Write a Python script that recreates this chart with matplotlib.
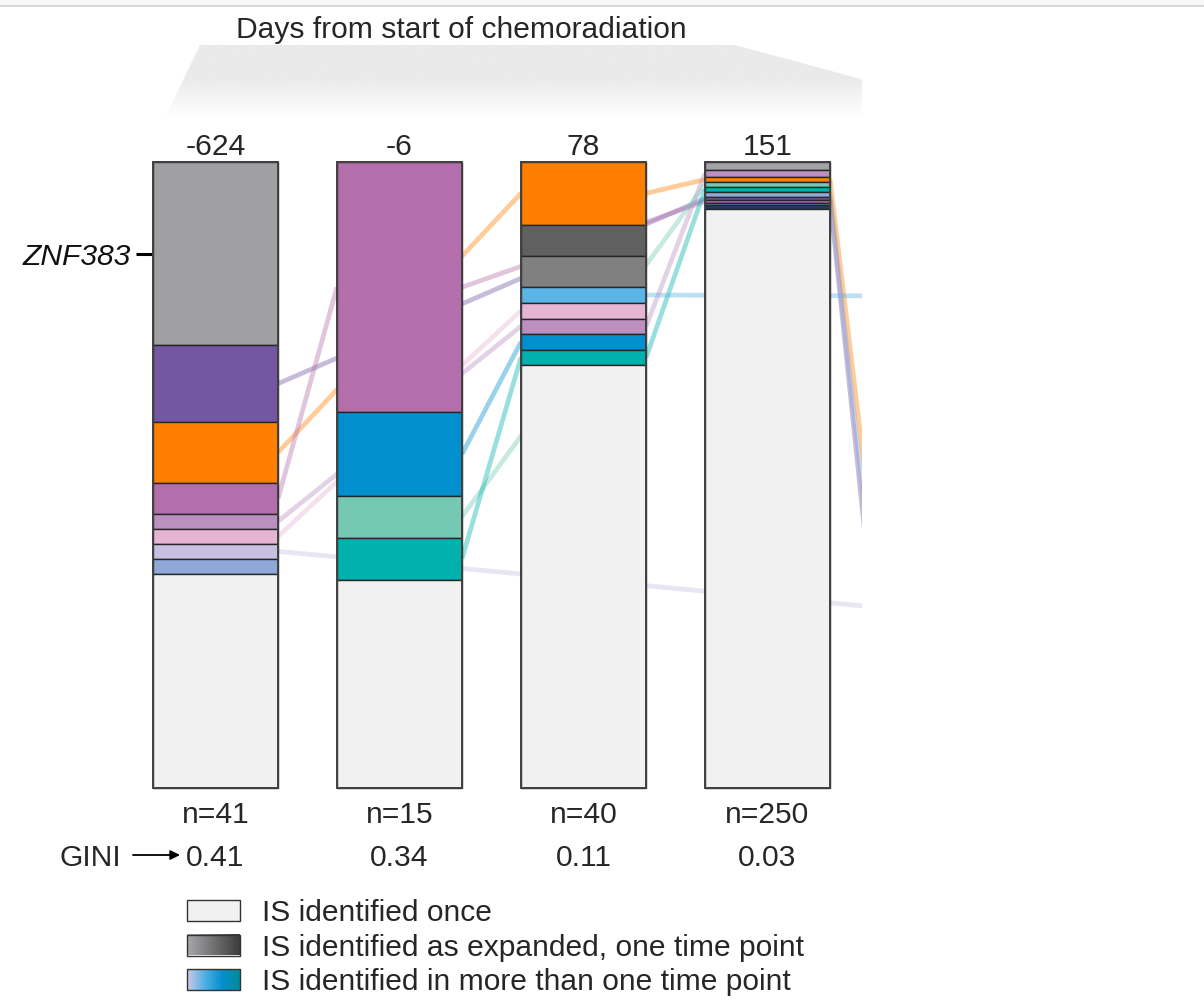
import numpy as np
import matplotlib
matplotlib.use('Agg')
import matplotlib.pyplot as plt
from matplotlib.patches import Polygon, Rectangle
from matplotlib.colors import to_rgb

plt.rcParams['font.family'] = ['Liberation Sans', 'DejaVu Sans']

# sampling days relative to the start of chemoradiation
days = ['-624', '-6', '78', '151']
n_sites = [41, 15, 40, 250]
gini = [0.41, 0.34, 0.11, 0.03]

# relative abundance of each integration site (IS), listed top to bottom
is_d624 = ['ZNF383', 'A', 'B', 'C', 'D', 'E', 'F', 'P', 'once']
ab_d624 = [0.293, 0.122, 0.098, 0.049, 0.024, 0.024, 0.024, 0.024, 0.342]

is_d6 = ['C', 'G', 'H', 'I', 'once']
ab_d6 = [0.400, 0.133, 0.067, 0.067, 0.333]

is_d78 = ['B', 'X1', 'X2', 'J', 'E', 'D', 'G', 'I', 'once']
ab_d78 = [0.100, 0.050, 0.050, 0.025, 0.025, 0.025, 0.025, 0.025, 0.675]

is_d151 = ['X3', 'D', 'B', 'H', 'I', 'Q', 'A', 'C', 'R', 'S', 'once']
ab_d151 = [0.012, 0.012, 0.008, 0.008, 0.008, 0.008, 0.005, 0.004, 0.004, 0.006, 0.925]

# following sample sits outside the panel, only its incoming links are visible
is_next = ['X4', 'J', 'X5', 'F', 'B', 'Q', 'A']
ab_next = [0.170, 0.088, 0.420, 0.070, 0.140, 0.040, 0.072]

is_colors = {
    'ZNF383': '#a09fa4', 'A': '#7457a3', 'B': '#ff8000', 'C': '#b36eab',
    'D': '#bb8fc0', 'E': '#e6b5d4', 'F': '#c9bfe0', 'P': '#8ea8d8',
    'G': '#028fce', 'H': '#74c8b4', 'I': '#00b1ae', 'J': '#5ab4e5',
    'Q': '#8ea8d8', 'R': '#5ab4e5', 'S': '#1c3d6e',
    'X1': '#606060', 'X2': '#808080', 'X3': '#a3a3a7', 'X4': '#909090',
    'X5': '#f1f1f1', 'once': '#f1f1f1',
}

legend_labels = ['IS identified once',
                 'IS identified as expanded, one time point',
                 'IS identified in more than one time point']
legend_ramps = [['#f1f1f1', '#f1f1f1'],
                ['#a8a8ac', '#3c3c3c'],
                ['#d2c9e8', '#4fb0e2', '#028fce', '#008c98']]

W, H = 1204, 1001
FS = 21.6
BAR_W = 0.68

# pixel layout of the panel
x0_px, step_px = 215.5, 184.0
top_px, base_px = 162.0, 788.0
unit_px = base_px - top_px


def px_x(p):
    return (p - x0_px) / step_px


def px_y(p):
    return (base_px - p) / unit_px


fig = plt.figure(figsize=(W / 100, H / 100), dpi=100)

ax_l, ax_r, ax_t, ax_b = 100, 862, 40, 800
ax = fig.add_axes([ax_l / W, 1 - ax_b / H, (ax_r - ax_l) / W, (ax_b - ax_t) / H])
ax.patch.set_visible(False)

# shaded header band
band = [(165, 118), (200, 45), (735, 45), (1000, 116.6), (1000, 118)]
poly = Polygon([(px_x(a), px_y(b)) for a, b in band], closed=True,
               facecolor='none', edgecolor='none', transform=ax.transData)
ax.add_patch(poly)
t = np.linspace(0, 1, 200)[:, None]
alpha = np.clip((1 - t) / 0.55, 0, 1)
grad = np.zeros((200, 2, 4))
grad[..., :3] = to_rgb('#eaeaea')
grad[..., 3] = alpha
img = ax.imshow(grad, extent=[px_x(165), px_x(1000), px_y(118), px_y(45)],
                aspect='auto', origin='upper', zorder=0, interpolation='bilinear')
img.set_clip_path(poly)

samples = [(is_d624, ab_d624), (is_d6, ab_d6), (is_d78, ab_d78),
           (is_d151, ab_d151), (is_next, ab_next)]

centres = {}
seen = {}
for i, (ids, ab) in enumerate(samples):
    ab = np.asarray(ab)
    tops = 1 - np.concatenate([[0], np.cumsum(ab)[:-1]])
    bottoms = tops - ab
    ax.bar(i, ab, bottom=bottoms, width=BAR_W,
           color=[is_colors[k] for k in ids], edgecolor='#262626',
           linewidth=1.0, zorder=3)
    ax.bar(i, ab.sum(), bottom=1 - ab.sum(), width=BAR_W, fill=False,
           edgecolor='#404040', linewidth=1.4, zorder=4)
    for k, b, h in zip(ids, bottoms, ab):
        centres[(i, k)] = b + h / 2
        if k != 'once':
            seen.setdefault(k, []).append(i)

# links between consecutive samples of the same IS, hidden behind the bars
for k, idx in seen.items():
    for a, b in zip(idx[:-1], idx[1:]):
        ax.plot([a + BAR_W / 2, b - BAR_W / 2], [centres[(a, k)], centres[(b, k)]],
                color=is_colors[k], alpha=0.4, lw=3.4, solid_capstyle='butt',
                zorder=1)

ax.set_xlim(px_x(ax_l), px_x(ax_r))
ax.set_ylim(px_y(ax_b), px_y(ax_t))

# gene label for the dominant expanded IS (spine moved first: it resets ticks)
ax.spines['left'].set_position(('data', -BAR_W / 2))
ax.set_xticks([])
ax.set_yticks([centres[(0, 'ZNF383')]])
ax.set_yticklabels(['ZNF383'], fontstyle='italic', fontsize=FS, color='#111111')
ax.tick_params(axis='y', length=12.2, width=2.2, pad=3.6, color='black')
for s in ax.spines.values():
    s.set_visible(False)

for i, d in enumerate(days):
    ax.text(i, px_y(155), d, ha='center', va='baseline', fontsize=FS,
            color='#262626')
    ax.text(i, px_y(823), f'n={n_sites[i]}', ha='center', va='baseline',
            fontsize=FS, color='#262626')
    ax.text(i, px_y(866), f'{gini[i]:.2f}', ha='center', va='baseline',
            fontsize=FS, color='#262626')

ax.text(px_x(121), px_y(866), 'GINI', ha='right', va='baseline', fontsize=FS,
        color='#262626')
ax.annotate('', xy=(px_x(180), px_y(855)), xytext=(px_x(133), px_y(855)),
            arrowprops=dict(arrowstyle='-|>', color='black', lw=1.3,
                            mutation_scale=14, shrinkA=0, shrinkB=0),
            annotation_clip=False)

# overlay in pixel space for title, legend and the top rule
lay = fig.add_axes([0, 0, 1, 1], zorder=-1)
lay.axis('off')
lay.add_patch(Rectangle((0, 0), W, 5, facecolor='#f8f8f8', edgecolor='none'))
lay.plot([0, W], [5.5, 5.5], color='#d8d8d8', lw=1.5)
lay.text(461, 38, 'Days from start of chemoradiation', ha='center',
         va='baseline', fontsize=FS, color='#262626')

for r, (lab, ramp) in enumerate(zip(legend_labels, legend_ramps)):
    y_top = 900 + r * 34.5
    cols = np.array([to_rgb(c) for c in ramp])
    xs = np.linspace(0, 1, 100)
    pos = np.linspace(0, 1, len(cols))
    row = np.stack([np.interp(xs, pos, cols[:, c]) for c in range(3)], axis=-1)
    lay.imshow(row[None, :, :], extent=[187, 240, y_top + 21, y_top],
               aspect='auto', interpolation='bilinear')
    lay.add_patch(Rectangle((187, y_top), 53, 21, fill=False,
                            edgecolor='#333333', lw=1.0))
    lay.text(262, y_top + 21, lab, ha='left', va='baseline', fontsize=FS,
             color='#262626')

lay.set_xlim(0, W)
lay.set_ylim(H, 0)

fig.savefig('out.png', dpi=100)
